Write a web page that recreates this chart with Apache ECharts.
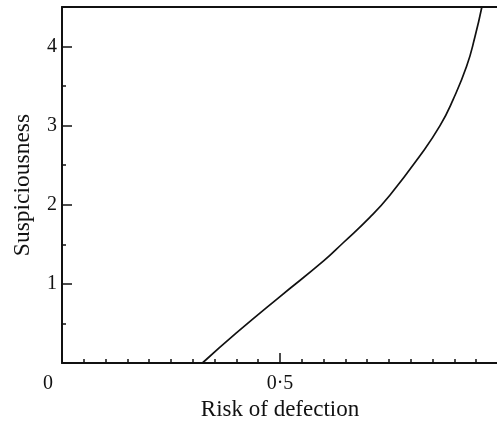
<!DOCTYPE html>
<html>
<head>
<meta charset="utf-8">
<script src="https://cdn.jsdelivr.net/npm/echarts@6/dist/echarts.min.js"></script>
<style>
  html, body { margin: 0; padding: 0; background: #fff; }
  #chart { width: 497px; height: 424px; }
</style>
</head>
<body>
<div id="chart"></div>
<script>
// risk of defection (x) against suspiciousness (y)
const riskValues = [0.322, 0.40, 0.50, 0.60, 0.645, 0.706, 0.752, 0.821, 0.867, 0.897, 0.928, 0.947, 0.963];
const suspicionValues = [0, 0.38, 0.84, 1.29, 1.52, 1.84, 2.12, 2.62, 3.00, 3.33, 3.75, 4.12, 4.5];
const xTickLabels = { 0: '{o|0}', 0.5: '0·5' };
const yTickLabels = { 1: '1', 2: '2', 3: '3', 4: '4' };

const FONT = '"Liberation Serif", "DejaVu Serif", serif';
const INK = '#111';

const chart = echarts.init(document.getElementById('chart'));

const points = riskValues.map((x, i) => [x, suspicionValues[i]]);

chart.setOption({
  animation: false,
  backgroundColor: '#fff',
  grid: { left: 62, top: 7, width: 436, height: 356, outerBoundsMode: 'none' },
  xAxis: [{
    type: 'value',
    min: 0,
    max: 1,
    interval: 0.5,
    name: 'Risk of defection',
    nameLocation: 'middle',
    nameGap: 31,
    nameTextStyle: { color: INK, fontFamily: FONT, fontSize: 23 },
    axisLine: { lineStyle: { color: INK, width: 2 } },
    axisTick: { inside: true, length: 10, lineStyle: { color: INK, width: 1.5 } },
    minorTick: { show: true, splitNumber: 10, length: 4, lineStyle: { color: INK, width: 1.5 } },
    splitLine: { show: false },
    axisLabel: {
      margin: 11,
      color: INK,
      fontFamily: FONT,
      fontSize: 20,
      formatter: v => xTickLabels[v] || '',
      rich: { o: { fontFamily: FONT, fontSize: 20, color: INK, padding: [0, 28, 0, 0] } }
    }
  }, {
    type: 'value',
    position: 'top',
    min: 0,
    max: 1,
    axisLine: { lineStyle: { color: INK, width: 2 } },
    axisTick: { show: false },
    axisLabel: { show: false },
    splitLine: { show: false }
  }],
  yAxis: {
    type: 'value',
    min: 0,
    max: 4.5,
    interval: 1,
    name: 'Suspiciousness',
    nameLocation: 'middle',
    nameGap: 27,
    nameRotate: 90,
    nameTextStyle: { color: INK, fontFamily: FONT, fontSize: 23.5 },
    axisLine: { lineStyle: { color: INK, width: 2 } },
    axisTick: { inside: true, length: 10, lineStyle: { color: INK, width: 1.5 } },
    minorTick: { show: true, splitNumber: 2, length: 4, lineStyle: { color: INK, width: 1.5 } },
    splitLine: { show: false },
    axisLabel: {
      margin: 5,
      color: INK,
      fontFamily: FONT,
      fontSize: 20,
      formatter: v => yTickLabels[v] || ''
    }
  },
  series: [{
    type: 'line',
    data: points,
    smooth: 0.5,
    symbol: 'none',
    lineStyle: { color: INK, width: 1.7 }
  }]
});
</script>
</body>
</html>
